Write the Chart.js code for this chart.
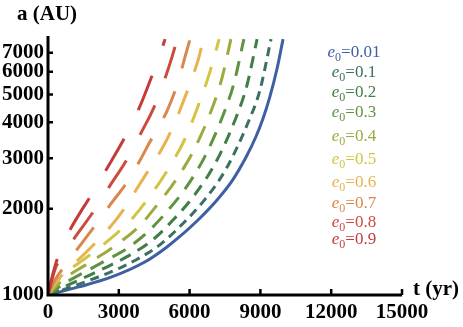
<!DOCTYPE html>
<html>
<head>
<meta charset="utf-8">
<script src="https://cdn.jsdelivr.net/npm/chart.js@4.4.0/dist/chart.umd.min.js"></script>
<style>
  html, body { margin: 0; padding: 0; background: #fff; }
</style>
</head>
<body>
<canvas id="myChart" width="463" height="327"></canvas>
<script>
// t (yr) and a (AU), one pair of arrays per curve
const tE001 = [0, 1300, 2700, 4100, 5000, 5600, 6400, 7200, 7800, 8400, 8800, 9100, 9400, 9700, 9960];
const aE001 = [1000, 1067, 1156, 1303, 1462, 1603, 1841, 2163, 2500, 3034, 3548, 4102, 4909, 6124, 7800];
const tE01 = [0, 473, 945, 1890, 2835, 3780, 4725, 5670, 6615, 7560, 8505, 8978, 9450];
const aE01 = [1000, 1031, 1064, 1136, 1220, 1333, 1492, 1759, 2138, 2764, 4043, 5171, 7800];
const tE02 = [0, 443, 886, 1772, 2658, 3544, 4430, 5316, 6202, 7088, 7974, 8417, 8860];
const aE02 = [1000, 1042, 1086, 1174, 1272, 1389, 1555, 1833, 2228, 2880, 4168, 5333, 7800];
const tE03 = [0, 415, 830, 1660, 2490, 3320, 4150, 4980, 5810, 6640, 7470, 7885, 8300];
const aE03 = [1000, 1059, 1115, 1215, 1325, 1447, 1637, 1929, 2346, 3032, 4343, 5501, 7800];
const tE04 = [0, 388, 775, 1550, 2325, 3100, 3875, 4650, 5425, 6200, 6975, 7363, 7750];
const aE04 = [1000, 1081, 1154, 1266, 1389, 1539, 1741, 2074, 2520, 3225, 4525, 5672, 7800];
const tE05 = [0, 363, 725, 1450, 2175, 2900, 3625, 4350, 5075, 5800, 6525, 6888, 7250];
const aE05 = [1000, 1108, 1191, 1318, 1462, 1637, 1871, 2228, 2735, 3499, 4966, 6095, 7800];
const tE06 = [0, 300, 720, 1500, 2630, 3390, 3810, 4400, 4870, 5380, 5720, 6150, 6440, 6570];
const aE06 = [1000, 1100, 1200, 1380, 1725, 2090, 2380, 2840, 3280, 4000, 4700, 5840, 6960, 7800];
const tE07 = [0, 250, 510, 1000, 1980, 2630, 3350, 3900, 4240, 5040, 5510, 5800, 6020];
const aE07 = [1000, 1110, 1200, 1360, 1740, 2060, 2475, 2950, 3330, 4380, 5520, 6740, 7800];
const tE08 = [0, 300, 600, 1060, 1910, 2585, 3350, 3940, 4530, 5000, 5240, 5470];
const aE08 = [1000, 1230, 1370, 1555, 1946, 2378, 2975, 3670, 4590, 5830, 6700, 7800];
const tE09 = [0, 200, 370, 600, 930, 1350, 1780, 2460, 3260, 3860, 4450, 4750, 4960];
const aE09 = [1000, 1180, 1320, 1470, 1684, 1930, 2194, 2730, 3550, 4480, 5940, 6900, 7800];

const eccLabels = ["0.01", "0.1", "0.2", "0.3", "0.4", "0.5", "0.6", "0.7", "0.8", "0.9"];
const xTicks = [0, 3000, 6000, 9000, 12000, 15000];
const yTicks = [1000, 2000, 3000, 4000, 5000, 6000, 7000];

const tSeries = [tE001, tE01, tE02, tE03, tE04, tE05, tE06, tE07, tE08, tE09];
const aSeries = [aE001, aE01, aE02, aE03, aE04, aE05, aE06, aE07, aE08, aE09];

const colors = ["#3f5fa3", "#3a7062", "#3f7e46", "#5f9341", "#9bab3e",
                "#d3c443", "#e5b44f", "#d9884d", "#cd4a3f", "#c53b3b"];
const dashes = [[], [9, 6], [12, 8], [15, 10], [18, 13], [21, 17], [25, 20], [29, 24], [33, 29], [37, 32]];

const serif = "'Liberation Serif', 'DejaVu Serif', serif";

const decorPlugin = {
  id: "decor",
  afterDraw(chart) {
    const { ctx, chartArea: area, scales } = chart;
    const x = scales.x, y = scales.y;
    ctx.save();
    ctx.strokeStyle = "#000";
    ctx.lineWidth = 3;
    ctx.beginPath();
    ctx.moveTo(area.left, area.top);
    ctx.lineTo(area.left, area.bottom);
    ctx.lineTo(area.right, area.bottom);
    ctx.stroke();

    // inward ticks
    ctx.lineWidth = 2.5;
    ctx.beginPath();
    xTicks.slice(1).forEach(v => {
      const px = x.getPixelForValue(v);
      ctx.moveTo(px, area.bottom);
      ctx.lineTo(px, area.bottom - 6);
    });
    yTicks.slice(1).forEach(v => {
      const py = y.getPixelForValue(v);
      ctx.moveTo(area.left, py);
      ctx.lineTo(area.left + 5, py);
    });
    ctx.stroke();

    // axis titles
    ctx.fillStyle = "#000";
    ctx.font = "bold 21px " + serif;
    ctx.textAlign = "left";
    ctx.textBaseline = "alphabetic";
    ctx.fillText("a (AU)", 17, 20);
    ctx.fillText("t (yr)", 413, 295);

    // legend labels
    const rowY = [52, 72, 92, 112, 136, 159, 182, 203, 222, 239];
    eccLabels.forEach((lab, i) => {
      const rest = "=" + lab;
      ctx.font = "italic 17px " + serif;
      const we = ctx.measureText("e").width;
      ctx.font = "12px " + serif;
      const ws = ctx.measureText("0").width;
      ctx.font = "17px " + serif;
      const wr = ctx.measureText(rest).width;
      let px = 354 - (we + ws + wr) / 2;
      const base = rowY[i] + 5;
      ctx.fillStyle = colors[i];
      ctx.font = "italic 17px " + serif;
      ctx.fillText("e", px, base);
      px += we;
      ctx.font = "12px " + serif;
      ctx.fillText("0", px, base + 4);
      px += ws;
      ctx.font = "17px " + serif;
      ctx.fillText(rest, px, base);
    });
    ctx.restore();
  }
};

const datasets = tSeries.map((ts, i) => ({
  label: "e0=" + eccLabels[i],
  data: ts.map((t, j) => ({ x: t, y: aSeries[i][j] })),
  borderColor: colors[i],
  borderWidth: 3,
  borderDash: dashes[i],
  borderCapStyle: "butt",
  pointRadius: 0,
  fill: false,
  cubicInterpolationMode: "monotone"
})).reverse();

const ctx = document.getElementById("myChart").getContext("2d");
new Chart(ctx, {
  type: "line",
  data: { datasets: datasets },
  options: {
    responsive: false,
    animation: false,
    layout: { padding: { top: 36, right: 61, left: 0, bottom: 0 } },
    plugins: { legend: { display: false }, tooltip: { enabled: false } },
    scales: {
      x: {
        type: "linear",
        min: 0,
        max: 15000,
        afterBuildTicks: s => { s.ticks = xTicks.map(v => ({ value: v })); },
        afterFit: s => { s.height = 32; },
        grid: { display: false, drawTicks: false },
        border: { display: false },
        ticks: {
          padding: 5,
          color: "#000",
          maxRotation: 0,
          autoSkip: false,
          font: { family: serif, size: 21, weight: "bold" },
          callback: v => String(v)
        }
      },
      y: {
        type: "logarithmic",
        min: 1000,
        max: 8000,
        afterBuildTicks: s => { s.ticks = yTicks.map(v => ({ value: v })); },
        afterFit: s => { s.width = 48; },
        grid: { display: false, drawTicks: false },
        border: { display: false },
        ticks: {
          padding: 4,
          color: "#000",
          autoSkip: false,
          font: { family: serif, size: 21, weight: "bold" },
          callback: v => String(v)
        }
      }
    }
  },
  plugins: [decorPlugin]
});
</script>
</body>
</html>
